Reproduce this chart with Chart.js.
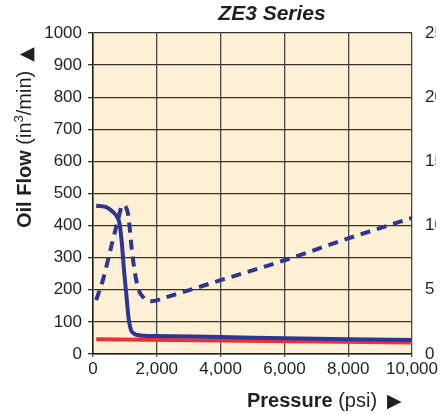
<!DOCTYPE html>
<html>
<head>
<meta charset="utf-8">
<script src="https://cdn.jsdelivr.net/npm/chart.js@4.4.0/dist/chart.umd.min.js"></script>
<style>
  html, body { margin:0; padding:0; background:#fff; }
  #wrap { width:440px; height:414px; position:relative; }
</style>
</head>
<body>
<div id="wrap"><canvas id="myChart"></canvas></div>
<script>
// data
let xTicks=[0,2000,4000,6000,8000,10000]
let solidPsi=[100,400,620,750,830,900,980,1050,1110,1190,1300,1400,1600,2000,4000,6000,8000,10000]
let solidFlow=[462,458,443,428,408,350,252,180,116,75,63,59,57,56,53,49,46,44]
let dashPsi=[100,310,570,780,930,1090,1240,1400,1600,1810,2330,4000,6000,8000,10000]
let dashVal=[4.2,5.75,8.35,10.4,11.6,11.0,7.6,5.25,4.35,4.1,4.45,5.75,7.3,9.0,10.6]
let redPsi=[100,10000]
let redFlow=[46,36]

const FONT='"Liberation Sans", Arial, "DejaVu Sans", sans-serif'
const SYM='"DejaVu Sans", sans-serif'
const INK='#231f20'

function pts(xs,ys){ return xs.map((x,i)=>({x:x,y:ys[i]})) }

const decor={
    id:'decor',
    beforeDraw(chart){
        const {ctx,chartArea:a}=chart
        ctx.save()
        ctx.fillStyle='#fdf0d4'
        ctx.fillRect(a.left,a.top,a.right-a.left,a.bottom-a.top)
        ctx.restore()
    },
    afterDraw(chart){
        const ctx=chart.ctx
        ctx.save()
        ctx.fillStyle=INK
        ctx.textBaseline='alphabetic'
        // title
        ctx.font='italic bold 21px '+FONT
        ctx.textAlign='center'
        ctx.fillText('ZE3 Series',272,20)
        ctx.textAlign='left'
        // x title
        let x=247
        ctx.font='bold 20px '+FONT
        ctx.fillText('Pressure',x,407); x+=ctx.measureText('Pressure ').width
        ctx.font='20px '+FONT
        ctx.fillText('(psi)',x,407); x+=ctx.measureText('(psi)').width+10
        ctx.font='19px '+SYM
        ctx.fillText('\u25B6',x,407)
        // y title
        ctx.translate(31,228)
        ctx.rotate(-Math.PI/2)
        x=0
        ctx.font='bold 20px '+FONT
        ctx.fillText('Oil Flow',x,0); x+=ctx.measureText('Oil Flow ').width
        ctx.font='20px '+FONT
        ctx.fillText('(in',x,0); x+=ctx.measureText('(in').width
        ctx.font='13px '+FONT
        ctx.fillText('3',x,-8); x+=ctx.measureText('3').width
        ctx.font='20px '+FONT
        ctx.fillText('/min)',x,0); x+=ctx.measureText('/min)').width+9
        ctx.font='19px '+SYM
        ctx.fillText('\u25B2',x,1)
        ctx.restore()
    }
}

var ctx=document.getElementById('myChart').getContext('2d')
var myChart=new Chart(ctx,{
    type:'line',
    data:{
        datasets:[{
            label:'flow',
            data:pts(solidPsi,solidFlow),
            borderColor:'#2e3592',
            borderWidth:4,
            cubicInterpolationMode:'monotone',
            pointRadius:0,
            yAxisID:'y'
        },
        {
            label:'dashed',
            data:pts(dashPsi,dashVal),
            borderColor:'#2e3592',
            borderWidth:4,
            borderDash:[10,7],
            cubicInterpolationMode:'monotone',
            pointRadius:0,
            yAxisID:'y1'
        },
        {
            label:'red',
            data:pts(redPsi,redFlow),
            borderColor:'#e8323a',
            borderWidth:4,
            pointRadius:0,
            yAxisID:'y'
        }]
    },
    options:{
        responsive:true,
        maintainAspectRatio:false,
        animation:false,
        layout:{autoPadding:false,padding:{top:33,left:0,right:0,bottom:0}},
        plugins:{legend:{display:false},tooltip:{enabled:false}},
        scales:{
            x:{
                type:'linear',min:0,max:10000,
                afterBuildTicks(s){ s.ticks=xTicks.map(v=>({value:v})) },
                afterFit(s){ s.height=60 },
                grid:{color:'#4a4a4a',lineWidth:1.3,tickLength:3},
                border:{color:INK,width:1.5},
                ticks:{color:INK,padding:2,font:{family:FONT,size:17},maxRotation:0,
                    callback:v=>v.toLocaleString('en-US')}
            },
            y:{
                position:'left',min:0,max:1000,
                afterFit(s){ s.width=93 },
                grid:{color:'#333',lineWidth:1.3,tickLength:5},
                border:{color:INK,width:1.5},
                ticks:{stepSize:100,color:INK,padding:6,font:{family:FONT,size:17},
                    callback:v=>String(v)}
            },
            y1:{
                position:'right',min:0,max:25,
                afterFit(s){ s.width=24 },
                grid:{display:false},
                border:{display:false},
                ticks:{stepSize:5,color:INK,padding:5,font:{family:FONT,size:17}}
            }
        }
    },
    plugins:[decor]
})
</script>
</body>
</html>
